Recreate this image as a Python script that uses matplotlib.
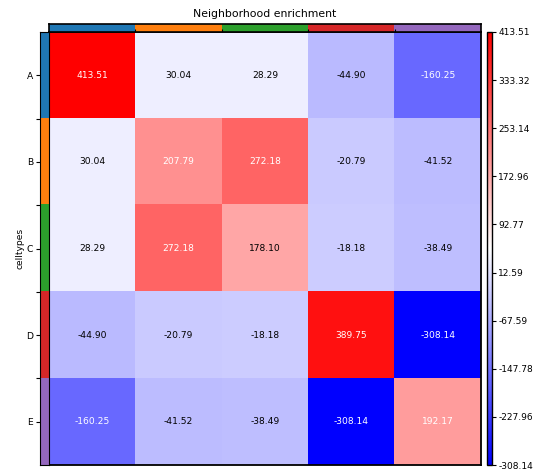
import numpy as np
import matplotlib
matplotlib.use("Agg")
import matplotlib.pyplot as plt
from matplotlib.colors import Normalize, ListedColormap

celltypes = ["A", "B", "C", "D", "E"]
cluster_colors = ["#1f77b4", "#ff7f0e", "#2ca02c", "#d62728", "#9467bd"]

row_A = [413.51, 30.04, 28.29, -44.90, -160.25]
row_B = [30.04, 207.79, 272.18, -20.79, -41.52]
row_C = [28.29, 272.18, 178.10, -18.18, -38.49]
row_D = [-44.90, -20.79, -18.18, 389.75, -308.14]
row_E = [-160.25, -41.52, -38.49, -308.14, 192.17]

colorbar_labels = ["413.51", "333.32", "253.14", "172.96", "92.77",
                   "12.59", "-67.59", "-147.78", "-227.96", "-308.14"]

zscore = np.array([row_A, row_B, row_C, row_D, row_E])
n = len(celltypes)

cmap = plt.get_cmap("bwr")
norm = Normalize(vmin=zscore.min(), vmax=zscore.max())


def text_color(v):
    r, g, b, _ = (int(c * 255) for c in cmap(norm(v)))
    return "#000000" if r * 0.299 + g * 0.587 + b * 0.114 > 186 else "#ffffff"


W, H = 534, 473
fig = plt.figure(figsize=(W / 100, H / 100), dpi=100)


def box(x0, y0, x1, y1):
    return [x0 / W, 1 - y1 / H, (x1 - x0) / W, (y1 - y0) / H]


ax = fig.add_axes(box(49, 32, 481, 465))
ax_top = fig.add_axes(box(49, 24, 481, 32))
ax_left = fig.add_axes(box(40, 32, 49, 465))
cax = fig.add_axes(box(486.5, 32, 491.5, 465))

im = ax.imshow(zscore, cmap=cmap, norm=norm, aspect="auto", interpolation="nearest")
for i in range(n):
    for j in range(n):
        ax.text(j, i, f"{zscore[i, j]:.2f}", ha="center", va="center",
                fontsize=6.6, color=text_color(zscore[i, j]))
ax.set_xticks([])
ax.set_yticks([])
for s in ax.spines.values():
    s.set_linewidth(1.3)

clu_cmap = ListedColormap(cluster_colors)
ax_top.imshow(np.arange(n)[None, :], cmap=clu_cmap, aspect="auto", interpolation="nearest")
ax_top.set_yticks([])
ax_top.set_xticks(np.arange(n - 1) + 0.5)
ax_top.set_xticklabels([])
ax_top.tick_params(axis="x", direction="in", length=2, width=0.8)
for s in ax_top.spines.values():
    s.set_linewidth(1.2)
ax_top.set_title("Neighborhood enrichment", fontsize=7.8, pad=5)

ax_left.imshow(np.arange(n)[:, None], cmap=clu_cmap, aspect="auto", interpolation="nearest")
ax_left.set_xticks([])
ax_left.set_yticks(np.arange(n))
ax_left.set_yticklabels(celltypes, fontsize=6.6)
ax_left.set_yticks(np.arange(n - 1) + 0.5, minor=True)
ax_left.tick_params(axis="y", which="major", length=3, width=0.8, pad=2)
ax_left.tick_params(axis="y", which="minor", length=3, width=0.8)
ax_left.set_ylabel("celltypes", fontsize=6.6, labelpad=1)

cb = fig.colorbar(im, cax=cax)
cb.set_ticks([float(t) for t in colorbar_labels])
cb.set_ticklabels(colorbar_labels)
cb.ax.tick_params(labelsize=6.5, length=3, width=0.8, pad=2)
cb.outline.set_linewidth(1.0)

fig.savefig("out.png", dpi=100)
